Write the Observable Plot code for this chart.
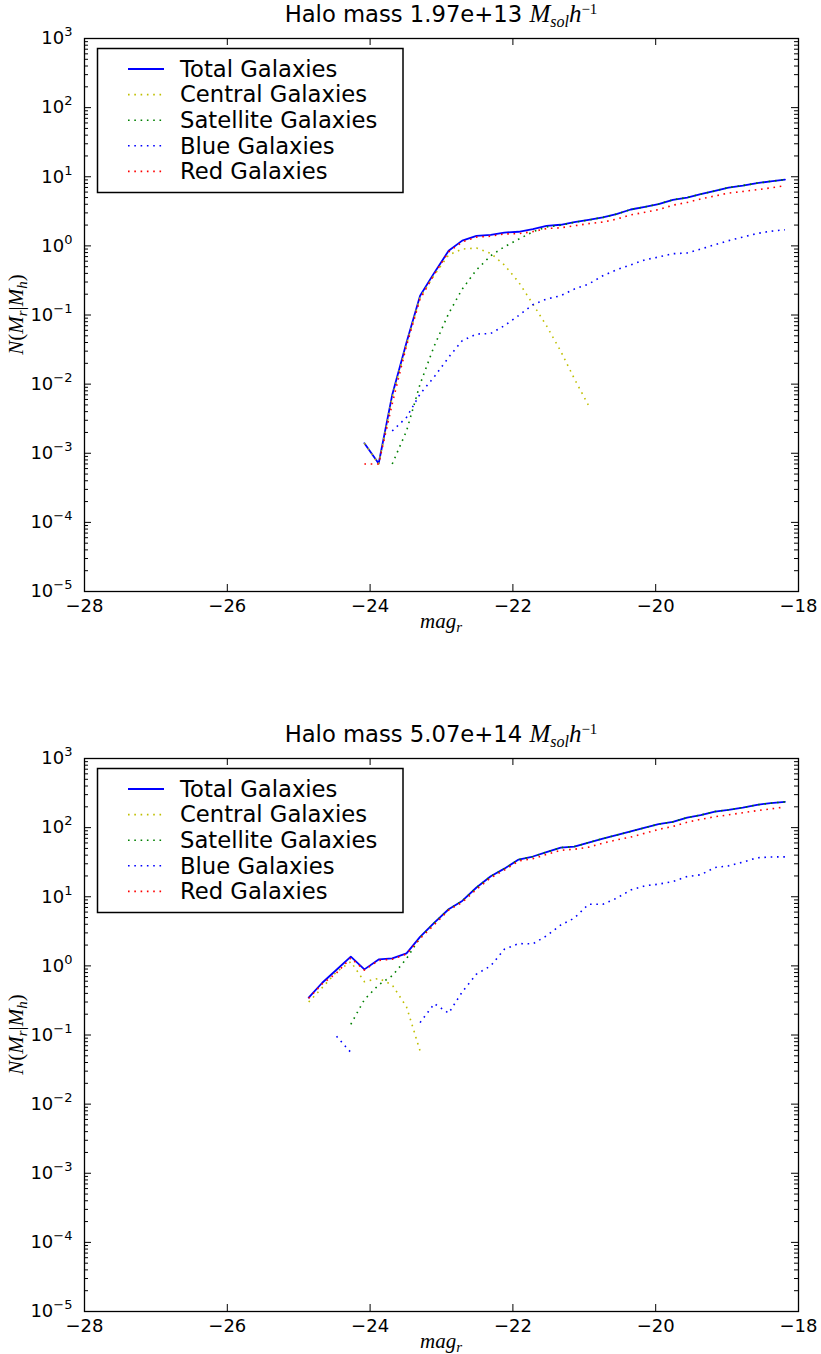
<!DOCTYPE html>
<html><head><meta charset="utf-8">
<script src="https://cdn.jsdelivr.net/npm/d3@7"></script>
<script src="https://cdn.jsdelivr.net/npm/@observablehq/plot@0.6"></script>
<style>
body{margin:0;background:#fff;}
#chart{width:821px;}
#chart svg{display:block;}
</style></head><body><div id="chart"></div>
<script>
// ---------- data: panel 1 (halo mass 1.97e+13) ----------
const magTop = [-24.08,-23.88,-23.69,-23.49,-23.30,-23.10,-22.90,-22.71,-22.51,-22.31,-22.12,-21.92,-21.72,-21.53,-21.33,-21.14,-20.94,-20.74,-20.55,-20.35,-20.15,-19.96,-19.76,-19.56,-19.37,-19.17,-18.98,-18.78,-18.58,-18.39,-18.19];
const totalTop = [1.4e-3,7.1e-4,7.0e-3,0.040,0.19,0.41,0.85,1.19,1.40,1.44,1.56,1.60,1.75,1.95,2.02,2.20,2.37,2.58,2.88,3.36,3.67,4.02,4.64,5.0,5.6,6.25,6.98,7.46,8.08,8.6,9.1];
const centralTop = [1.4e-3,7.0e-4,6.5e-3,0.038,0.18,0.38,0.74,0.90,0.93,0.78,0.53,0.30,0.144,0.070,0.030,0.012,0.0049,null,null,null,null,null,null,null,null,null,null,null,null,null,null];
const satelliteTop = [null,null,7.0e-4,2.1e-3,0.010,0.036,0.105,0.237,0.45,0.72,0.97,1.25,1.60,1.88,1.99,2.19,2.36,2.58,2.88,3.36,3.67,4.02,4.64,5.0,5.6,6.25,6.98,7.46,8.08,8.6,9.1];
const blueTop = [null,null,2.1e-3,3.3e-3,7.2e-3,0.0128,0.0244,0.0425,0.053,0.054,0.070,0.098,0.141,0.17,0.19,0.237,0.28,0.37,0.45,0.53,0.63,0.69,0.77,0.79,0.90,1.04,1.19,1.34,1.51,1.63,1.71];
const redTop = [7.0e-4,7.0e-4,5.2e-3,0.036,0.17,0.39,0.82,1.14,1.34,1.38,1.49,1.50,1.61,1.78,1.83,1.95,2.10,2.21,2.43,2.81,3.06,3.34,3.88,4.25,4.77,5.28,5.8,6.12,6.5,6.9,7.4];

// ---------- data: panel 2 (halo mass 5.07e+14) ----------
const magBot = [-24.86,-24.67,-24.47,-24.27,-24.08,-23.88,-23.69,-23.49,-23.30,-23.10,-22.90,-22.71,-22.51,-22.31,-22.12,-21.92,-21.72,-21.53,-21.33,-21.14,-20.94,-20.74,-20.55,-20.35,-20.15,-19.96,-19.76,-19.56,-19.37,-19.17,-18.98,-18.78,-18.58,-18.39,-18.19];
const totalBot = [0.348,0.57,0.88,1.36,0.89,1.24,1.28,1.52,2.63,4.23,6.6,8.7,13.6,19.8,25.5,34.5,38.2,44.2,51.5,53.2,60.8,69.5,77.9,87.9,100,112,121,140,152,171,181,195,214,226,236];
const centralBot = [0.30,0.485,0.82,1.15,0.59,0.66,0.53,0.255,0.059,null,null,null,null,null,null,null,null,null,null,null,null,null,null,null,null,null,null,null,null,null,null,null,null,null,null];
const satelliteBot = [null,null,null,0.143,0.325,0.53,0.72,1.27,2.57,4.2,6.6,8.7,13.6,19.8,25.5,34.5,38.2,44.2,51.5,53.2,60.8,69.5,77.9,87.9,100,112,121,140,152,171,181,195,214,226,236];
const blueBot = [null,null,0.096,0.056,null,null,null,null,0.151,0.284,0.207,0.42,0.76,1.0,1.74,2.1,2.08,2.72,3.9,4.9,7.8,7.8,9.5,12.5,14.4,15.2,16.6,19.6,20.8,26.5,28,31.7,36.6,37.6,37.8];
const redBot = [0.34,0.55,0.79,1.30,0.87,1.20,1.25,1.48,2.48,3.95,6.4,8.3,12.8,18.8,24.3,32.8,35.5,41,47,48.6,52.2,59.7,66.4,73,83,94.4,103.7,119.7,132,143.7,153,164,176,186.5,199];

// ---------- series / axis labels ----------
const seriesNames = ["Total Galaxies","Central Galaxies","Satellite Galaxies","Blue Galaxies","Red Galaxies"];
const seriesColors = ["#0000ff","#bfbf00","#008000","#0000ff","#ff0000"];
const seriesDotted = [false,true,true,true,true];
const xTicks = [-28,-26,-24,-22,-20,-18];
const yMajor = [1e-5,1e-4,1e-3,1e-2,1e-1,1e0,1e1,1e2,1e3];
const panelTitles = ["1.97e+13","5.07e+14"];

const yMinor = d3.scaleLog().domain([1e-5,1e3]).ticks().filter(t => Math.abs(Math.log10(t) - Math.round(Math.log10(t))) > 1e-6);

const DOT = "1.6,4.7";

function expStr(d){ const e = Math.round(Math.log10(d)); return e < 0 ? "\u2212" + (-e) : String(e); }

function buildPanel(mags, seriesVals, mass, svgHeight){
  const W = 821, ML = 84, MR = 23, MT = 38, PH = 553;
  const IW = W - ML - MR;
  const MB = svgHeight - MT - PH;
  const marks = [];
  seriesVals.forEach((vals, si) => {
    const rows = mags.map((m, i) => ({mag: m, n: vals[i]}));
    const o = {x: "mag", y: "n", stroke: seriesColors[si]};
    if (seriesDotted[si]) { o.strokeWidth = 1.6; o.strokeDasharray = DOT; o.strokeLinecap = "butt"; }
    else { o.strokeWidth = 1.8; }
    marks.push(Plot.line(rows, o));
  });
  // inward ticks (classic style)
  marks.push(Plot.tickY(yMajor, {y: d => d, insetRight: IW - 7, stroke: "black"}));
  marks.push(Plot.tickY(yMajor, {y: d => d, insetLeft: IW - 7, stroke: "black"}));
  marks.push(Plot.tickY(yMinor, {y: d => d, insetRight: IW - 4, stroke: "black"}));
  marks.push(Plot.tickY(yMinor, {y: d => d, insetLeft: IW - 4, stroke: "black"}));
  marks.push(Plot.tickX(xTicks, {x: d => d, insetTop: PH - 7, stroke: "black"}));
  marks.push(Plot.tickX(xTicks, {x: d => d, insetBottom: PH - 7, stroke: "black"}));
  marks.push(Plot.axisX({ticks: xTicks, tickSize: 0, tickPadding: 8, label: null, fontSize: 18,
    tickFormat: d => (d < 0 ? "\u2212" : "") + Math.abs(d)}));
  marks.push(Plot.axisY({ticks: yMajor, tickSize: 0, tickPadding: 12, label: null, fontSize: 18,
    tickFormat: d => "10^" + expStr(d)}));
  marks.push(Plot.frame({stroke: "black", strokeWidth: 1.3}));

  const svg = Plot.plot({
    width: W, height: svgHeight,
    marginLeft: ML, marginRight: MR, marginTop: MT, marginBottom: MB,
    x: {domain: [-28, -18]},
    y: {type: "log", domain: [1e-5, 1e3]},
    style: {fontFamily: "DejaVu Sans", fontSize: "18px", background: "white", color: "black"},
    marks
  });

  // superscripts on y tick labels
  svg.querySelectorAll('g[aria-label="y-axis tick label"] text').forEach(t => {
    const parts = t.textContent.split("^");
    if (parts.length !== 2) return;
    t.textContent = "";
    const ns = "http://www.w3.org/2000/svg";
    const a = document.createElementNS(ns, "tspan"); a.textContent = parts[0]; t.appendChild(a);
    const b = document.createElementNS(ns, "tspan"); b.textContent = parts[1];
    b.setAttribute("dy", "-8"); b.setAttribute("font-size", "13px"); t.appendChild(b);
  });

  const s = d3.select(svg);
  const serif = "'Liberation Serif', 'DejaVu Serif', serif";
  // title
  const ti = s.append("text").attr("x", ML + IW / 2).attr("y", 22).attr("text-anchor", "middle")
    .style("font-family", "DejaVu Sans").style("font-size", "22.7px").attr("fill", "black");
  ti.append("tspan").text("Halo mass " + mass + " ");
  ti.append("tspan").style("font-family", serif).attr("font-style", "italic").attr("font-size", "25px").text("M");
  ti.append("tspan").style("font-family", serif).attr("font-style", "italic").attr("font-size", "16px").attr("dy", "5").text("sol");
  ti.append("tspan").style("font-family", serif).attr("font-style", "italic").attr("font-size", "25px").attr("dy", "-5").text("h");
  ti.append("tspan").style("font-family", serif).attr("font-size", "15px").attr("dy", "-8").text("\u22121");

  // y label
  const yl = s.append("text").attr("transform", `translate(23,${MT + PH / 2}) rotate(-90)`).attr("text-anchor", "middle")
    .style("font-family", serif).style("font-size", "21px").attr("fill", "black");
  yl.append("tspan").attr("font-style", "italic").text("N");
  yl.append("tspan").text("(");
  yl.append("tspan").attr("font-style", "italic").text("M");
  yl.append("tspan").attr("font-style", "italic").attr("font-size", "15px").attr("dy", "4").text("r");
  yl.append("tspan").attr("dy", "-4").text("|");
  yl.append("tspan").attr("font-style", "italic").text("M");
  yl.append("tspan").attr("font-style", "italic").attr("font-size", "15px").attr("dy", "4").text("h");
  yl.append("tspan").attr("dy", "-4").text(")");

  // x label
  const xl = s.append("text").attr("x", ML + IW / 2).attr("y", MT + PH + 37).attr("text-anchor", "middle")
    .style("font-family", serif).style("font-size", "21px").attr("fill", "black");
  xl.append("tspan").attr("font-style", "italic").text("mag");
  xl.append("tspan").attr("font-style", "italic").attr("font-size", "15px").attr("dy", "4").text("r");

  // legend
  const lg = s.append("g").attr("text-anchor", "start");
  lg.append("rect").attr("x", 97.5).attr("y", 48.5).attr("width", 305.5).attr("height", 144)
    .attr("fill", "white").attr("stroke", "black").attr("stroke-width", 1.5);
  seriesNames.forEach((name, i) => {
    const cy = 69 + 25.6 * i;
    const ln = lg.append("line").attr("x1", 128).attr("x2", 164).attr("y1", cy).attr("y2", cy)
      .attr("stroke", seriesColors[i]).attr("stroke-width", seriesDotted[i] ? 1.6 : 1.8);
    if (seriesDotted[i]) ln.attr("stroke-dasharray", DOT);
    lg.append("text").attr("x", 180).attr("y", cy + 7.8).attr("text-anchor", "start")
      .style("font-family", "DejaVu Sans").style("font-size", "22.7px").attr("fill", "black").text(name);
  });
  return svg;
}

const chart = document.getElementById("chart");
chart.appendChild(buildPanel(magTop, [totalTop, centralTop, satelliteTop, blueTop, redTop], panelTitles[0], 720));
chart.appendChild(buildPanel(magBot, [totalBot, centralBot, satelliteBot, blueBot, redBot], panelTitles[1], 634));
</script></body></html>
